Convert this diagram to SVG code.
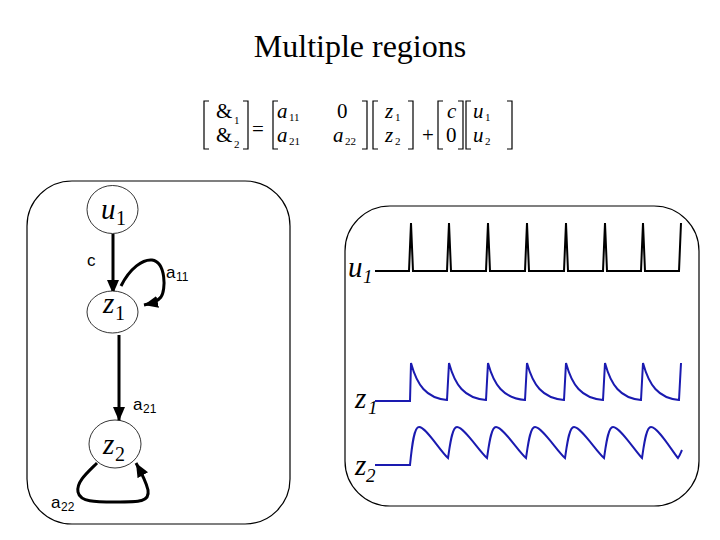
<svg xmlns="http://www.w3.org/2000/svg" width="720" height="540" viewBox="0 0 720 540">
<style>
.title{font-family:"Liberation Serif",serif;font-size:32px;fill:#000}
.eq{font-family:"Liberation Serif",serif;font-size:21px;fill:#000}
.it{font-style:italic}
.sub{font-family:"Liberation Serif",serif;font-size:11px;fill:#000}
.br{fill:none;stroke:#000;stroke-width:1.2}
.box{fill:none;stroke:#000;stroke-width:1.2}
.node{fill:#fff;stroke:#000;stroke-width:0.8}
.nl{font-family:"Liberation Serif",serif;font-size:29px;font-style:italic;fill:#000}
.ns{font-family:"Liberation Serif",serif;font-size:20px;fill:#000}
.lbl{font-family:"Liberation Sans",Arial,sans-serif;font-size:17px;fill:#000}
.lsub{font-family:"Liberation Sans",Arial,sans-serif;font-size:12px;fill:#000}
.edge{fill:none;stroke:#000;stroke-width:3}
.wl{font-family:"Liberation Serif",serif;font-size:29px;font-style:italic;fill:#000}
.ws{font-family:"Liberation Serif",serif;font-size:19px;font-style:italic;fill:#000}
.wk{fill:none;stroke:#000;stroke-width:2;stroke-linejoin:miter}
.wb{fill:none;stroke:#1a1ab0;stroke-width:2}
</style>
<defs>
<marker id="ah" markerUnits="userSpaceOnUse" markerWidth="16" markerHeight="14" refX="14" refY="6" orient="auto">
<path d="M0,0 L14,6 L0,12 Z" fill="#000"/>
</marker>
</defs>

<text class="title" x="360" y="57" text-anchor="middle">Multiple regions</text>

<g id="equation">
<path class="br" d="M209,101 H204 V149 H209"/>
<path class="br" d="M243,101 H248 V149 H243"/>
<path class="br" d="M278,101 H273 V149 H278"/>
<path class="br" d="M362,101 H367 V149 H362"/>
<path class="br" d="M378,101 H373 V149 H378"/>
<path class="br" d="M408,101 H413 V149 H408"/>
<path class="br" d="M443,101 H438 V149 H443"/>
<path class="br" d="M458,101 H463 V149 H458"/>
<path class="br" d="M471,101 H466 V149 H471"/>
<path class="br" d="M507,101 H512 V149 H507"/>
<text class="eq" x="216" y="118">&amp;</text><text class="sub" x="234" y="124">1</text>
<text class="eq" x="216" y="142">&amp;</text><text class="sub" x="234" y="148">2</text>
<text class="eq" x="258" y="136" text-anchor="middle">=</text>
<text class="eq it" x="277" y="118">a</text><text class="sub" x="289" y="121">11</text>
<text class="eq" x="337" y="118">0</text>
<text class="eq it" x="277" y="142">a</text><text class="sub" x="289" y="145">21</text>
<text class="eq it" x="333" y="142">a</text><text class="sub" x="345" y="145">22</text>
<text class="eq it" x="385" y="118">z</text><text class="sub" x="395" y="121">1</text>
<text class="eq it" x="385" y="142">z</text><text class="sub" x="395" y="145">2</text>
<text class="eq" x="428" y="142" text-anchor="middle">+</text>
<text class="eq it" x="447" y="118">c</text>
<text class="eq" x="446" y="142">0</text>
<text class="eq it" x="473" y="118">u</text><text class="sub" x="485" y="121">1</text>
<text class="eq it" x="473" y="142">u</text><text class="sub" x="485" y="145">2</text>
</g>

<rect id="left-panel" class="box" x="27" y="181" width="263" height="343" rx="45" ry="45"/>
<rect id="right-panel" class="box" x="345" y="206" width="354" height="300" rx="45" ry="45"/>

<g id="connectors">
<path class="edge" d="M113,234 L113,294" marker-end="url(#ah)"/>
<path class="edge" d="M121,286 C130,268 143,259 152,260 C166,262 166,290 161,297 C158,301 153,303 144,305" marker-end="url(#ah)"/>
<path class="edge" d="M119,335 L119,421" marker-end="url(#ah)"/>
<path class="edge" d="M97,463 C88,472 76,482 78,492 C80,502 95,502 115,502 C140,502 150,502 148,490 C146,481 141,472 136,463" marker-end="url(#ah)"/>
<text class="lbl" x="87" y="266">c</text>
<text class="lbl" x="166" y="278">a</text><text class="lsub" x="176" y="281">11</text>
<text class="lbl" x="133" y="410">a</text><text class="lsub" x="143" y="413">21</text>
<text class="lbl" x="51" y="508">a</text><text class="lsub" x="61" y="511">22</text>
</g>

<g id="node-u1">
<ellipse class="node" cx="112.5" cy="209.5" rx="25.5" ry="24"/>
<text class="nl" x="101" y="219">u</text><text class="ns" x="116" y="225">1</text>
</g>
<g id="node-z1">
<ellipse class="node" cx="112.5" cy="312" rx="25.5" ry="21"/>
<text class="nl" x="103" y="313">z</text><text class="ns" x="115" y="320">1</text>
</g>
<g id="node-z2">
<ellipse class="node" cx="115" cy="444" rx="26" ry="24"/>
<text class="nl" x="103" y="454">z</text><text class="ns" x="115" y="461">2</text>
</g>

<g id="waveforms">
<text class="wl" x="348" y="277">u</text><text class="ws" x="363" y="283">1</text>
<path class="wk" d="M375,271 L409,271 L411,223 L413,271 L447,271 L449,223 L451,271 L486,271 L488,223 L490,271 L525,271 L527,223 L529,271 L564,271 L566,223 L568,271 L603,271 L605,223 L607,271 L641,271 L643,223 L645,271 L679,271 L681,223"/>
<text class="wl" x="355" y="408">z</text><text class="ws" x="368" y="414">1</text>
<path class="wb" d="M375,401 L410,401 L411,363 C417,385 426,398 447,400 L449,363 C455,385 464,398 486,400 L488,363 C494,385 503,398 525,400 L527,363 C533,385 542,398 564,400 L566,363 C572,385 581,398 603,400 L605,363 C611,385 620,398 641,400 L643,363 C649,385 658,398 679,400 L681,363"/>
<text class="wl" x="355" y="475">z</text><text class="ws" x="366" y="482">2</text>
<path class="wb" d="M375,465 L410,465 C412,445 414,427 419,427 C426,427 440,451 448,458 C450,445 452,427 457,427 C464,427 479,451 487,458 C489,445 491,427 496,427 C503,427 518,451 526,458 C528,445 530,427 535,427 C542,427 557,451 565,458 C567,445 569,427 574,427 C581,427 596,451 604,458 C606,445 608,427 613,427 C620,427 635,451 642,458 C644,445 646,427 651,427 C658,427 672,451 678,458 C680,455 681,452 682,450"/>
</g>
</svg>
